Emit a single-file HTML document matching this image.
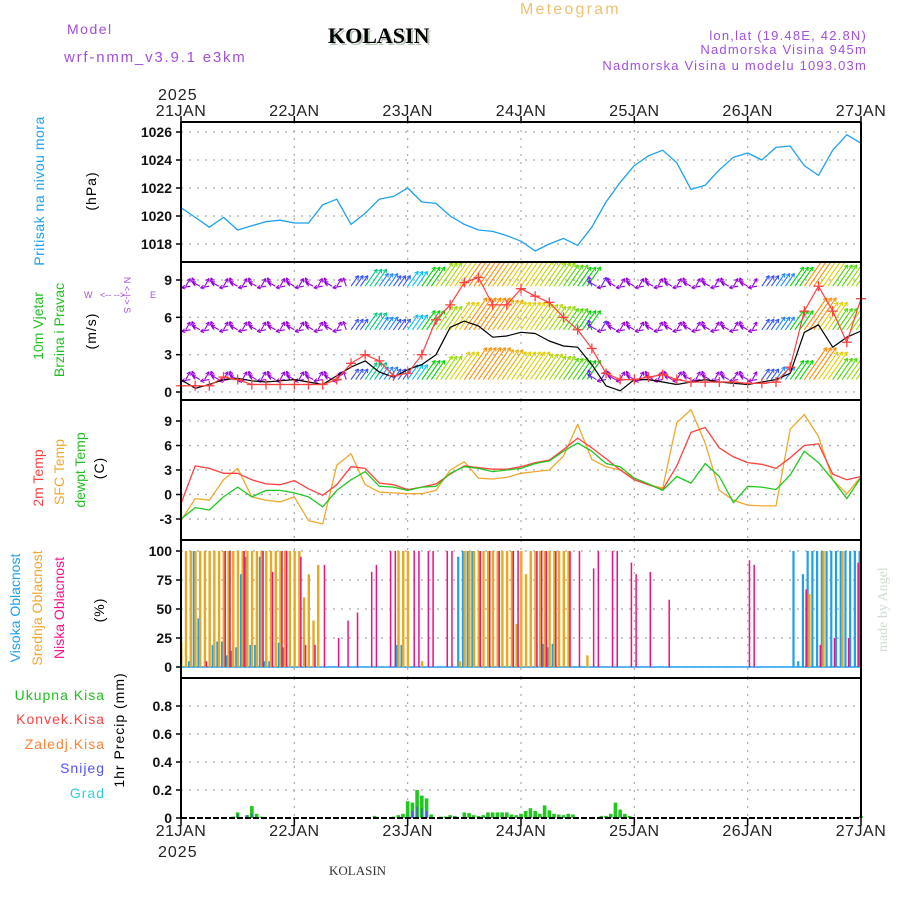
<!DOCTYPE html>
<html><head><meta charset="utf-8"><style>
body{margin:0;background:#fff}
svg{display:block}
text{font-family:"Liberation Sans",sans-serif}
text.serif{font-family:"Liberation Serif",serif}
.t{font-size:14px;fill:#000;letter-spacing:1px}
.yl{font-size:14px;font-weight:bold;fill:#111;text-anchor:end}
</style></head><body>
<svg id="chart" width="900" height="900" viewBox="0 0 900 900" xmlns="http://www.w3.org/2000/svg">
<text x="67" y="34" font-size="14" fill="#a050e0" letter-spacing="1.5">Model</text>
<text x="64" y="62" font-size="15" fill="#a050e0" letter-spacing="1.8">wrf-nmm_v3.9.1 e3km</text>
<text class="serif" x="330" y="45" font-weight="bold" font-size="22" fill="#b8c8b8">KOLASIN</text>
<text class="serif" x="328" y="43" font-weight="bold" font-size="22" fill="#000">KOLASIN</text>
<text x="520" y="14" font-size="16" fill="#f0c070" letter-spacing="2.2">Meteogram</text>
<text x="867" y="40" font-size="13" fill="#a050e0" text-anchor="end" letter-spacing="1.2">lon,lat (19.48E, 42.8N)</text>
<text x="867" y="54" font-size="13" fill="#a050e0" text-anchor="end" letter-spacing="1.2">Nadmorska Visina 945m</text>
<text x="867" y="70" font-size="13" fill="#a050e0" text-anchor="end" letter-spacing="1.2">Nadmorska Visina u modelu 1093.03m</text>
<text x="158" y="100" font-size="16" fill="#222" letter-spacing="1">2025</text>
<text x="158" y="857" font-size="16" fill="#222" letter-spacing="1">2025</text>
<text class="serif" x="329" y="875" font-size="13" fill="#333">KOLASIN</text>
<text class="serif" transform="translate(887,652) rotate(-90)" font-size="14" fill="#d0dcd0">made by Angel</text>

<text transform="translate(44,191) rotate(-90)" font-size="14" fill="#1ea0f0" text-anchor="middle" letter-spacing="0.5">Pritisak na nivou mora</text>
<text transform="translate(96,191) rotate(-90)" class="t" text-anchor="middle">(hPa)</text>
<text transform="translate(43,326) rotate(-90)" font-size="14" fill="#20c020" text-anchor="middle">10m Vjetar</text>
<text transform="translate(64,330) rotate(-90)" font-size="14" fill="#20c020" text-anchor="middle">Brzina i Pravac</text>
<text transform="translate(96,331) rotate(-90)" class="t" text-anchor="middle">(m/s)</text>
<text x="84" y="298" font-size="9" fill="#a050e0">W</text>
<text x="150" y="298" font-size="9" fill="#a050e0">E</text>
<text transform="translate(124,295) rotate(90)" font-size="9" fill="#a050e0" text-anchor="middle">N &lt;-|-&gt; S</text>
<text x="100" y="298" font-size="9" fill="#a050e0">&lt;-- --&gt;</text>
<text transform="translate(43,478) rotate(-90)" font-size="14" fill="#ff4040" text-anchor="middle">2m Temp</text>
<text transform="translate(64,472) rotate(-90)" font-size="14" fill="#f0a830" text-anchor="middle">SFC Temp</text>
<text transform="translate(85,470) rotate(-90)" font-size="14" fill="#20c020" text-anchor="middle">dewpt Temp</text>
<text transform="translate(104,468) rotate(-90)" class="t" text-anchor="middle">(C)</text>
<text transform="translate(20,608) rotate(-90)" font-size="14" fill="#1ea0f0" text-anchor="middle">Visoka Oblacnost</text>
<text transform="translate(42,608) rotate(-90)" font-size="14" fill="#f0a830" text-anchor="middle">Srednja Oblacnost</text>
<text transform="translate(64,608) rotate(-90)" font-size="14" fill="#ff1090" text-anchor="middle">Niska Oblacnost</text>
<text transform="translate(104,610) rotate(-90)" class="t" text-anchor="middle">(%)</text>
<text x="105" y="700" font-size="14" fill="#20c020" text-anchor="end" letter-spacing="1">Ukupna Kisa</text>
<text x="105" y="724" font-size="14" fill="#ff4040" text-anchor="end" letter-spacing="1">Konvek.Kisa</text>
<text x="105" y="749" font-size="14" fill="#ff8030" text-anchor="end" letter-spacing="1">Zaledj.Kisa</text>
<text x="105" y="773" font-size="14" fill="#5050ff" text-anchor="end" letter-spacing="1">Snijeg</text>
<text x="105" y="798" font-size="14" fill="#30d0d0" text-anchor="end" letter-spacing="1">Grad</text>
<text transform="translate(124,730) rotate(-90)" class="t" text-anchor="middle">1hr Precip (mm)</text>
<g id="plots"></g>
</svg>
<script>
// ---------- data ----------
const dayLabels = ["21JAN","22JAN","23JAN","24JAN","25JAN","26JAN","27JAN"];
const pressTicks = [1018,1020,1022,1024,1026];
const windTicks = [0,3,6,9];
const tempTicks = [-3,0,3,6,9];
const cloudTicks = [0,25,50,75,100];
const precipTicks = [0,0.2,0.4,0.6,0.8];
// 3-hourly series (49 values)
const pressure = [1020.6,1019.9,1019.2,1019.9,1019.0,1019.3,1019.6,1019.7,1019.5,1019.5,1020.8,1021.2,1019.4,1020.2,1021.2,1021.4,1022.0,1021.0,1020.9,1020.0,1019.4,1019.0,1018.9,1018.6,1018.2,1017.5,1018.0,1018.4,1017.9,1019.2,1021.0,1022.4,1023.6,1024.3,1024.7,1023.8,1021.9,1022.2,1023.3,1024.2,1024.5,1024.0,1024.9,1025.0,1023.6,1022.9,1024.7,1025.8,1025.2];
const windSpeed = [1.0,0.3,0.6,1.0,1.1,0.9,0.8,0.9,1.0,0.8,0.6,1.3,2.0,2.5,1.6,1.2,1.8,2.2,3.0,5.2,5.7,5.3,4.4,4.5,4.8,4.7,4.1,3.7,3.6,2.2,0.5,0.1,1.0,1.0,0.8,0.6,0.8,1.0,0.8,0.7,0.6,0.8,1.0,1.5,4.8,5.4,3.6,4.4,4.9];
const windGust = [0.5,0.5,0.5,1.2,1.0,0.6,0.6,0.6,0.6,0.6,0.6,1.0,2.3,3.0,2.5,1.3,1.5,3.0,5.8,7.0,8.8,9.2,7.0,7.0,8.3,7.7,7.2,6.0,5.0,3.5,1.5,1.0,1.0,1.2,1.4,1.0,0.8,0.8,0.8,0.8,0.7,0.7,0.8,2.0,6.5,8.5,6.5,4.0,7.5];
const arrowSpeed = [3,3,3,3,3,3,3,3,3,3,3,3,5,8,6,5,7,9,11,13,15,15,14,13,13,12,11,10,9,4,3,3,3,3,3,3,3,3,3,3,3,5,6,9,15,13,10,11,12];
const arrowRows = [1.0,5.0,8.5];
const temp2m = [-1.1,3.5,3.2,2.6,2.6,1.8,1.3,1.2,1.7,0.7,-0.1,1.2,3.4,3.2,1.4,1.2,0.6,0.9,1.3,2.5,3.5,3.3,3.1,3.1,3.4,3.9,4.2,5.5,6.9,5.7,4.4,3.0,1.8,1.2,0.6,3.5,7.6,8.2,5.7,4.6,3.9,3.7,3.2,4.5,6.0,6.2,2.5,1.8,2.2];
const tempSfc = [-3.2,-0.5,-0.7,1.8,3.2,-0.3,-0.7,-0.9,-0.3,-3.2,-3.6,3.6,5.0,1.2,0.3,0.2,0.1,0.1,0.5,3.0,4.0,2.0,1.9,2.1,2.6,2.8,3.0,4.7,8.6,4.3,3.4,3.0,2.0,1.2,0.8,8.8,10.4,6.3,0.5,-0.7,-1.3,-1.4,-1.4,8.0,9.8,7.1,1.8,0.1,2.2];
const tempDew = [-3.0,-1.6,-1.9,-0.3,0.9,-0.3,0.5,0.5,0.2,-0.3,-1.5,0.5,1.8,2.8,1.0,0.9,0.5,0.9,1.0,2.6,3.4,3.2,2.8,3.0,3.2,3.8,4.1,5.3,6.3,5.3,3.8,3.4,2.0,1.3,0.5,2.2,1.4,3.8,2.2,-1.0,1.0,0.9,0.6,2.4,5.3,3.9,1.8,-0.5,2.1];
// hourly cloud (145 values)
const cloudHigh = [0,0,5,100,42,0,0,19,22,22,10,14,17,80,95,19,19,95,5,5,0,21,17,0,0,0,0,0,0,0,0,0,0,0,0,0,0,0,0,0,0,0,0,0,0,0,19,19,0,0,0,0,0,0,0,0,0,0,0,95,100,100,100,0,0,0,0,0,0,0,0,0,0,0,0,0,0,20,17,20,0,0,0,0,0,0,0,0,0,0,0,0,0,0,0,0,0,0,0,0,0,0,0,0,0,0,0,0,0,0,0,0,0,0,0,0,0,0,0,0,0,0,0,0,0,0,0,0,0,0,100,5,80,100,100,100,100,100,100,100,100,100,100,100,100];
const cloudMid = [22,100,100,100,100,100,100,100,100,100,100,100,100,100,100,100,100,100,100,100,100,100,100,100,100,100,60,80,40,88,0,0,0,0,0,0,0,0,0,0,0,0,0,0,0,0,100,100,100,0,0,5,0,0,0,0,0,0,0,5,100,100,100,100,100,100,100,100,100,100,100,37,100,80,100,100,100,100,100,100,100,100,100,0,0,0,10,0,0,0,0,0,0,0,0,0,0,0,0,0,0,0,0,0,0,0,0,0,0,0,0,0,0,0,0,0,0,0,0,0,0,0,0,0,0,0,0,0,0,0,0,0,0,63,0,0,100,0,0,0,100];
const cloudLow = [0,0,0,0,0,5,0,0,0,100,100,0,0,100,0,0,0,100,0,82,0,100,100,0,0,95,19,0,19,0,88,0,0,25,0,40,0,47,0,0,82,88,0,0,100,100,0,0,0,100,100,0,100,100,0,0,100,100,0,0,0,0,0,100,0,100,0,100,0,0,100,100,0,0,0,100,100,100,0,100,0,0,100,0,100,0,0,85,100,0,0,100,100,0,0,90,80,0,0,82,0,0,0,58,0,0,0,0,0,0,0,0,0,0,0,0,0,0,0,0,92,88,0,0,0,0,0,0,0,0,0,0,67,0,0,19,0,0,25,0,0,25,0,90,0];
// hourly precipitation (145 values)
const precipTotal = [0,0,0,0,0,0,0,0,0,0,0,0.01,0.04,0,0.02,0.085,0.03,0.01,0,0,0,0,0,0,0,0,0,0,0,0,0,0,0,0,0,0,0,0,0,0,0,0.015,0,0,0,0.01,0.02,0.03,0.12,0.11,0.2,0.16,0.14,0.025,0,0.01,0.01,0.02,0.015,0,0.04,0.035,0.02,0.015,0.02,0.04,0.04,0.04,0.04,0.04,0.025,0.02,0.03,0.05,0.07,0.05,0.03,0.09,0.055,0.03,0.025,0.02,0.03,0.025,0,0,0,0,0,0.015,0.015,0.03,0.11,0.06,0.03,0.015,0,0,0,0,0,0,0,0,0,0,0,0,0,0,0,0,0,0,0,0,0,0,0,0,0,0,0,0,0,0,0,0,0,0,0,0,0,0,0,0,0,0,0,0,0,0,0,0,0.015];
const precipSnow = [0,0,0,0,0,0,0,0,0,0,0,0,0.03,0,0.02,0.03,0,0,0,0,0,0,0,0,0,0,0,0,0,0,0,0,0,0,0,0,0,0,0,0,0,0,0,0,0,0,0,0,0,0.05,0.08,0.07,0.05,0,0,0,0,0,0,0,0,0,0,0,0,0,0,0,0,0,0,0,0,0,0,0,0,0,0,0,0,0,0,0,0,0,0,0,0,0,0,0,0,0,0,0,0,0,0,0,0,0,0,0,0,0,0,0,0,0,0,0,0,0,0,0,0,0,0,0,0,0,0,0,0,0,0,0,0,0,0,0,0,0,0,0,0,0,0,0,0,0];

// ---------- layout ----------
const NS="http://www.w3.org/2000/svg";
const X0=181,X1=861,HOURS=144;
const g=document.getElementById('plots');
function xh(h){return X0+(X1-X0)*h/HOURS;}
function lin(v0,y0,v1,y1){return v=>y0+(v-v0)*(y1-y0)/(v1-v0);}
const yP=lin(1026,132,1018,244), yW=lin(9,280,0,392), yT=lin(9,421,-3,519), yC=lin(100,551,0,667), yR=lin(0.8,706,0,818);
const panels=[{top:122,bot:262,ticks:pressTicks,y:yP,fmt:v=>v},{top:262,bot:400,ticks:windTicks,y:yW,fmt:v=>v},{top:400,bot:540,ticks:tempTicks,y:yT,fmt:v=>v},{top:540,bot:678,ticks:cloudTicks,y:yC,fmt:v=>v},{top:678,bot:818,ticks:precipTicks,y:yR,fmt:v=>v===0?"0":v.toFixed(1)}];
function mk(tag,attrs,parent){const e=document.createElementNS(NS,tag);for(const k in attrs)e.setAttribute(k,attrs[k]);(parent||g).appendChild(e);return e;}

panels.forEach((p,pi)=>{
  p.ticks.forEach(t=>{
    const y=p.y(t);
    const gl=mk('line',{x1:X0,x2:X1,y1:y,y2:y,stroke:'#aaa','stroke-width':1.2,'stroke-dasharray':'2,6'});
    
    
    const tk=mk('line',{x1:X0-5,x2:X0,y1:y,y2:y,stroke:'#000','stroke-width':1.5});
    
    
    const tl=mk('text',{x:X0-9,y:y+5,class:'yl'});
    tl.textContent=p.fmt(t);
    
    
  });
  for(let d=1;d<6;d++){
    const x=xh(d*24);
    const vl=mk('line',{x1:x,x2:x,y1:p.top,y2:p.bot,stroke:'#aaa','stroke-width':1.2,'stroke-dasharray':'2,6'});
    
    
  }
});

poly(pressure,yP,'#1ea0f0',1.3,'pressure-line',3);
function poly(arr,yf,color,w,name,step){
  const pts=arr.map((v,i)=>xh(i*step).toFixed(1)+','+yf(v).toFixed(1)).join(' ');
  const pl=mk('polyline',{points:pts,fill:'none',stroke:color,'stroke-width':w,'stroke-linejoin':'round'});
  
  
}

// wind arrows
function spdColor(s){
  const stops=[[3,[150,0,220]],[5,[50,80,255]],[7,[0,190,255]],[9,[0,210,0]],[11,[150,220,0]],[13,[225,205,0]],[15,[255,140,0]]];
  if(s<=stops[0][0])return 'rgb('+stops[0][1]+')';
  for(let i=1;i<stops.length;i++){if(s<=stops[i][0]){const a=stops[i-1],b=stops[i],f=(s-a[0])/(b[0]-a[0]);return 'rgb('+a[1].map((c,k)=>Math.round(c+(b[1][k]-c)*f))+')';}}
  return 'rgb('+stops[stops.length-1][1]+')';
}
const clip=mk('clipPath',{id:'wclip'});mk('rect',{x:X0,y:263,width:X1-X0,height:136},clip);
const wg=mk('g',{'clip-path':'url(#wclip)'});


const lowAngles=[150,60,190,110];
arrowRows.forEach(lev=>{
  const by=yW(lev);
  arrowSpeed.forEach((s,i)=>{
    for(let k=0;k<3;k++){
      const h=i*3+k; if(h>HOURS)break;
      const x=xh(h), L=Math.max(s*2.6,9), ang=(s<5?lowAngles[h%4]:55)*Math.PI/180;
      const ex=x+L*Math.cos(ang), ey=by-L*Math.sin(ang), c=spdColor(s);
      const a=mk('line',{x1:x,y1:by,x2:ex,y2:ey,stroke:c,'stroke-width':1.1},wg);
      
      
      const hd=mk('path',{d:`M${ex},${ey} l${(-4*Math.cos(ang-0.5)).toFixed(1)},${(4*Math.sin(ang-0.5)).toFixed(1)} M${ex},${ey} l${(-4*Math.cos(ang+0.5)).toFixed(1)},${(4*Math.sin(ang+0.5)).toFixed(1)}`,stroke:c,'stroke-width':1,fill:'none'},wg);
      
      
    }
  });
});
poly(windSpeed,yW,'#000',1.2,'wind-speed-line',3);
poly(windGust,yW,'#ff4040',1.2,'wind-gust-line',3);
windGust.forEach((v,i)=>{
  const x=xh(i*3),y=yW(v);
  const m=mk('path',{d:`M${x-5},${y}h10M${x},${y-5}v10`,stroke:'#ff4040','stroke-width':1.3});
  
  
});

// temperature
poly(tempSfc,yT,'#f0a830',1.3,'sfc-temp-line',3);
poly(temp2m,yT,'#ff4040',1.3,'temp-2m-line',3);
poly(tempDew,yT,'#20c820',1.3,'dewpt-line',3);

// clouds
const cl=mk('line',{x1:X0,x2:X1,y1:yC(0),y2:yC(0),stroke:'#1ea0f0','stroke-width':1.5});


[[cloudHigh,'#1ea0f0',-1.4,2.2,'cloud-high-bar'],[cloudMid,'#e8a820',0.3,2.4,'cloud-mid-bar'],[cloudLow,'#f01080',1.8,1.5,'cloud-low-bar']].forEach(([arr,col,off,w,name])=>{
  arr.forEach((v,h)=>{
    if(v<=0)return;
    const r=mk('rect',{x:xh(h)+off-w/2,y:yC(v),width:w,height:yC(0)-yC(v),fill:col});
    
    
  });
});

// precip
precipTotal.forEach((v,h)=>{
  if(v<=0)return;
  const r=mk('rect',{x:xh(h)-1.8,y:yR(v),width:3.6,height:yR(0)-yR(v),fill:'#20c820'});
  
  
});
precipSnow.forEach((v,h)=>{
  if(v<=0)return;
  const r=mk('rect',{x:xh(h)-0.7,y:yR(v),width:1.4,height:yR(0)-yR(v),fill:'#5050ff'});
  
  
});
const bl=mk('line',{x1:X0,x2:X1,y1:818,y2:818,stroke:'#000','stroke-width':2,'stroke-dasharray':'6,2'});



// frames
[122,262,400,540,678].forEach(y=>{
  const l=mk('line',{x1:X0,x2:X1,y1:y,y2:y,stroke:'#000','stroke-width':2});
  
  
});
[X0,X1].forEach(x=>{
  const l=mk('line',{x1:x,x2:x,y1:122,y2:818,stroke:'#000','stroke-width':2});
  
  
});
dayLabels.forEach((d,i)=>{
  const x=xh(i*24);
  [[116,122,116],[836,818,826]].forEach(([ty,y1,y2])=>{
    const t=mk('line',{x1:x,x2:x,y1:y1,y2:y2,stroke:'#000','stroke-width':1.5});
    
    
    const tx=mk('text',{x:x,y:ty,'font-size':16,fill:'#222','text-anchor':'middle','letter-spacing':0.5});
    tx.textContent=d;
    
    
  });
});
</script>
</body></html>
